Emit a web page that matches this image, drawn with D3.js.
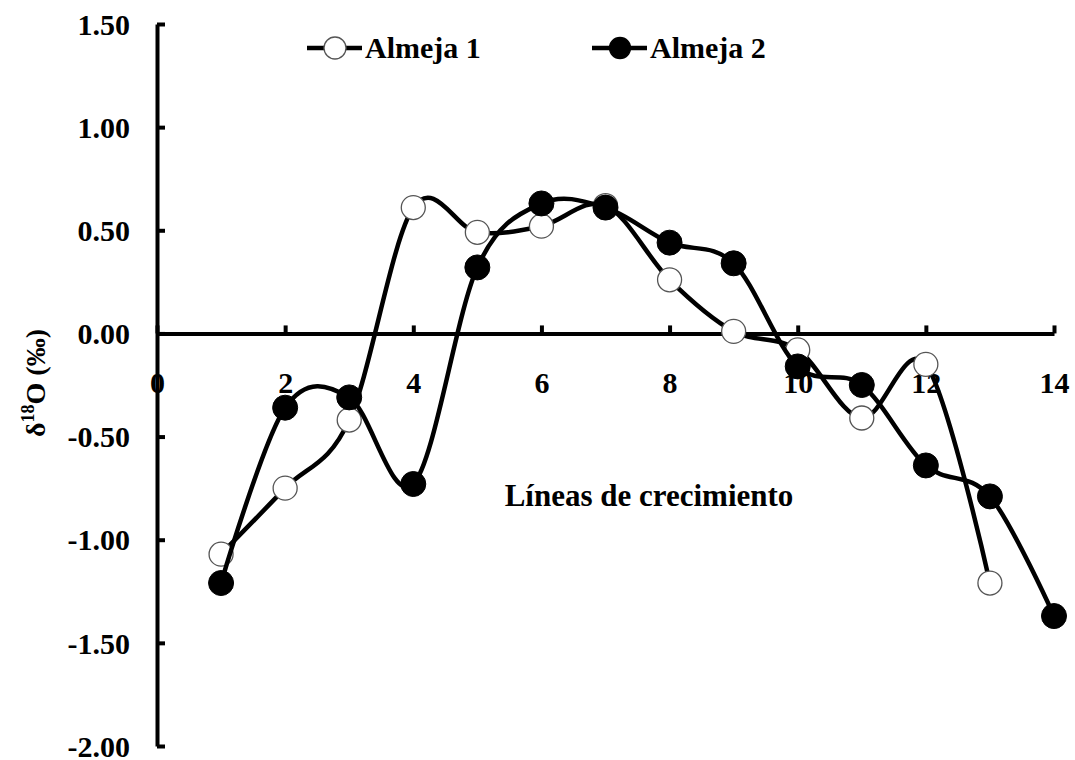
<!DOCTYPE html>
<html>
<head>
<meta charset="utf-8">
<script src="https://cdn.jsdelivr.net/npm/d3@7"></script>
<style>
  html, body { margin: 0; padding: 0; background: #fff; }
  svg { display: block; font-family: "Liberation Serif", "Times New Roman", serif; font-weight: bold; }
</style>
</head>
<body>
<svg id="chart" width="1075" height="760"></svg>
<script>
// Growth line number (x) and oxygen isotope values for each clam
const lines1 = [1, 2, 3, 4, 5, 6, 7, 8, 9, 10, 11, 12, 13];
const almeja1 = [-1.07, -0.75, -0.42, 0.61, 0.49, 0.52, 0.62, 0.26, 0.01, -0.08, -0.41, -0.15, -1.21];
const lines2 = [1, 2, 3, 4, 5, 6, 7, 8, 9, 10, 11, 12, 13, 14];
const almeja2 = [-1.21, -0.36, -0.31, -0.73, 0.32, 0.63, 0.61, 0.44, 0.34, -0.16, -0.25, -0.64, -0.79, -1.37];
const seriesNames = ["Almeja 1", "Almeja 2"];
const yTicks = [-2.0, -1.5, -1.0, -0.5, 0.0, 0.5, 1.0, 1.5];
const xTicks = [0, 2, 4, 6, 8, 10, 12, 14];
const xTitle = "Líneas de crecimiento";

const svg = d3.select("#chart");

const x = d3.scaleLinear().domain([0, 14]).range([157, 1054]);
const y = d3.scaleLinear().domain([-2, 1.5]).range([746, 24]);

// Two decimals with a plain hyphen as the minus sign
const fmt2 = d3.formatLocale({ decimal: ".", thousands: ",", grouping: [3], currency: ["", ""], minus: "-" }).format(".2f");

// Y axis: ticks point inward, labels with two decimals
const yAxis = d3.axisLeft(y)
  .tickValues(yTicks)
  .tickSizeInner(-8)
  .tickSizeOuter(0)
  .tickPadding(27)
  .tickFormat(fmt2);

const gy = svg.append("g")
  .attr("transform", `translate(${x(0)},0)`)
  .call(yAxis);
gy.select(".domain").attr("stroke", "#000").attr("stroke-width", 4);
gy.selectAll(".tick line").attr("stroke", "#000").attr("stroke-width", 4);
gy.selectAll(".tick text")
  .attr("fill", "#000")
  .style("font-size", "30px")
  .style("font-family", "'Liberation Serif', serif")
  .style("font-weight", "bold")
  .attr("dy", "0.34em");

// X axis along y = 0, ticks pointing up
const xAxis = d3.axisBottom(x)
  .tickValues(xTicks)
  .tickSizeInner(-8)
  .tickSizeOuter(0)
  .tickPadding(38)
  .tickFormat(d3.format("d"));

const gx = svg.append("g")
  .attr("transform", `translate(0,${y(0)})`)
  .call(xAxis);
gx.select(".domain").attr("stroke", "#000").attr("stroke-width", 4);
gx.selectAll(".tick line").attr("stroke", "#000").attr("stroke-width", 4);
gx.selectAll(".tick text")
  .attr("fill", "#000")
  .style("font-size", "30px")
  .style("font-family", "'Liberation Serif', serif")
  .style("font-weight", "bold");

// Smoothed series lines
const line = d3.line()
  .x(d => x(d[0]))
  .y(d => y(d[1]))
  .curve(d3.curveCardinal.tension(0));

const data1 = lines1.map((v, i) => [v, almeja1[i]]);
const data2 = lines2.map((v, i) => [v, almeja2[i]]);

function drawSeries(data, filled) {
  const g = svg.append("g");
  g.append("path")
    .datum(data)
    .attr("d", line)
    .attr("fill", "none")
    .attr("stroke", "#000")
    .attr("stroke-width", 4.5);
  g.selectAll("circle")
    .data(data)
    .join("circle")
    .attr("cx", d => x(d[0]))
    .attr("cy", d => y(d[1]))
    .attr("r", filled ? 12.5 : 12)
    .attr("fill", filled ? "#000" : "#fff")
    .attr("stroke", filled ? "#000" : "#555")
    .attr("stroke-width", filled ? 1 : 1.3);
}

drawSeries(data1, false);
drawSeries(data2, true);

// X axis title
svg.append("text")
  .attr("x", 649)
  .attr("y", 506)
  .attr("text-anchor", "middle")
  .style("font-size", "31px")
  .attr("fill", "#000")
  .text(xTitle);

// Y axis title: δ18O (‰)
const yt = svg.append("text")
  .attr("transform", "translate(45,383) rotate(-90)")
  .attr("text-anchor", "middle")
  .style("font-size", "28px")
  .attr("fill", "#000");
yt.append("tspan").text("δ");
yt.append("tspan").attr("dy", -11).style("font-size", "18px").text("18");
yt.append("tspan").attr("dy", 11).text("O (‰)");

// Legend
const legend = [
  { name: seriesNames[0], filled: false, x0: 307 },
  { name: seriesNames[1], filled: true, x0: 592 }
];
const lg = svg.append("g");
legend.forEach(l => {
  lg.append("line")
    .attr("x1", l.x0).attr("x2", l.x0 + 55)
    .attr("y1", 48).attr("y2", 48)
    .attr("stroke", "#000").attr("stroke-width", 4.5);
  lg.append("circle")
    .attr("cx", l.x0 + 28).attr("cy", 48)
    .attr("r", l.filled ? 10.5 : 11)
    .attr("fill", l.filled ? "#000" : "#fff")
    .attr("stroke", l.filled ? "#000" : "#555")
    .attr("stroke-width", 1.3);
  lg.append("text")
    .attr("x", l.x0 + 58)
    .attr("y", 58)
    .style("font-size", "30px")
    .attr("fill", "#000")
    .text(l.name);
});
</script>
</body>
</html>
